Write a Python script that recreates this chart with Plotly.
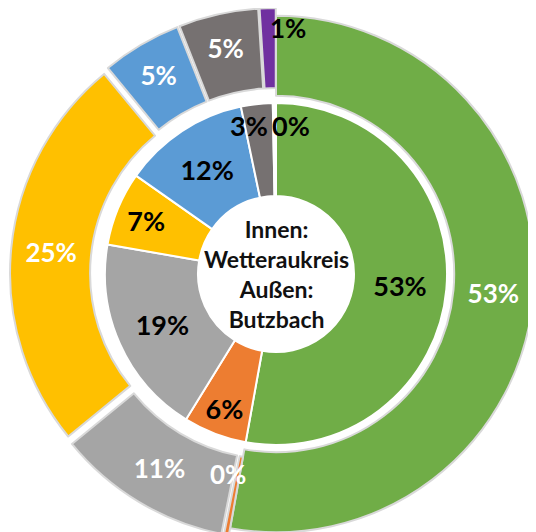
import math

import plotly.graph_objects as go

# categories in drawing order (clockwise from 12 o'clock)
categories = ["A", "B", "C", "D", "E", "F", "G"]
colors_outer = ["#70AD47", "#ED7D31", "#A5A5A5", "#FFC000", "#5B9BD5", "#767171", "#7030A0"]
colors_inner = ["#70AD47", "#ED7D31", "#A5A5A5", "#FFC000", "#5B9BD5", "#767171", "#FFFFFF"]

# Außen: Butzbach
outer_values = [53, 0.3, 11, 25, 5, 5, 1]
# Innen: Wetteraukreis
inner_values = [53, 6, 19, 7, 12, 3, 0.3]

outer_text_colors = ["white", "white", "white", "white", "white", "white", "black"]
inner_text_colors = ["black"] * 7

# slices too thin for plotly's inside text get a separate label
outer_small = [1, 6]
inner_small = [5, 6]

font = "Lato"
W, H = 536, 532
CX, CY = W / 2, H / 2
R_OUTER = 258
R_INNER = 171


def pct(values, i):
    return f"{round(values[i] / sum(values) * 100)}%"


def angle_at(values, position):
    # clockwise angle (deg) from 12 o'clock at a cumulative position
    return position / sum(values) * 360


def paper_xy(theta_deg, r):
    t = math.radians(theta_deg)
    return (CX + r * math.sin(t)) / W, (CY + r * math.cos(t)) / H


def templates(n, small):
    return ["" if i in small else "<b>%{percent:.0%}</b>" for i in range(n)]


fig = go.Figure()

fig.add_trace(
    go.Pie(
        labels=categories,
        values=outer_values,
        sort=False,
        direction="clockwise",
        rotation=0,
        hole=0.69,
        pull=[0, 0.03, 0.03, 0.03, 0.03, 0.03, 0.03],
        marker=dict(colors=colors_outer, line=dict(color="#D9D9D9", width=2)),
        texttemplate=templates(7, outer_small),
        textposition="inside",
        insidetextorientation="horizontal",
        textfont=dict(family=font, size=26, color=outer_text_colors),
        domain=dict(x=[0, 1], y=[0, 1]),
        showlegend=False,
    )
)

fig.add_trace(
    go.Pie(
        labels=categories,
        values=inner_values,
        sort=False,
        direction="clockwise",
        rotation=0,
        hole=0.456,
        marker=dict(colors=colors_inner, line=dict(color="white", width=2)),
        texttemplate=templates(7, inner_small),
        textposition="inside",
        insidetextorientation="horizontal",
        textfont=dict(family=font, size=27, color=inner_text_colors),
        domain=dict(x=[0.1785, 0.8215], y=[0.1785, 0.8215]),
        showlegend=False,
    )
)


def label(x, y, text, color, size, xanchor="center", xshift=0):
    fig.add_annotation(x=x, y=y, xref="paper", yref="paper", text=f"<b>{text}</b>",
                       showarrow=False, xanchor=xanchor, yanchor="middle", xshift=xshift,
                       font=dict(family=font, size=size, color=color))


# outer thin slices: orange 0% (below), purple 1% (right of slice)
cum_outer = [sum(outer_values[:i]) for i in range(7)]
x, y = paper_xy(angle_at(outer_values, cum_outer[1] + outer_values[1] / 2), 0.79 * R_OUTER)
label(x, y, pct(outer_values, 1), outer_text_colors[1], 26, xshift=-10)
x, y = paper_xy(angle_at(outer_values, cum_outer[6] + outer_values[6] / 2), 0.955 * R_OUTER)
label(x, y, pct(outer_values, 6), outer_text_colors[6], 26, xanchor="left")

# inner thin slices: 3% and 0% side by side near the top
cum_inner = [sum(inner_values[:i]) for i in range(7)]
x, y = paper_xy(angle_at(inner_values, cum_inner[6]), 0.87 * R_INNER)
label(x, y, pct(inner_values, 5), "black", 27, xanchor="right", xshift=-3)
label(x, y, pct(inner_values, 6), "black", 27, xanchor="left", xshift=-3)

fig.add_annotation(
    x=0.5,
    y=0.5,
    xref="paper",
    yref="paper",
    text="<b>Innen:<br>Wetteraukreis<br>Außen:<br>Butzbach</b>",
    showarrow=False,
    font=dict(family=font, size=23, color="#111111"),
)

fig.update_layout(
    width=W,
    height=H,
    margin=dict(l=0, r=0, t=0, b=0),
    paper_bgcolor="white",
    plot_bgcolor="white",
    uniformtext=dict(minsize=26, mode="show"),
    font=dict(family=font),
)

fig.write_html("out.html")
